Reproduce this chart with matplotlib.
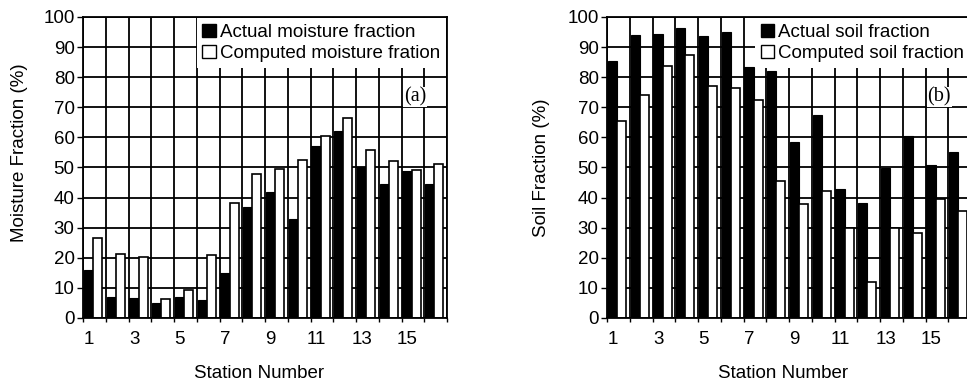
import numpy as np
import matplotlib
matplotlib.use('Agg')
import matplotlib.pyplot as plt
from matplotlib.patches import Patch

plt.rcParams['font.family'] = ['Liberation Sans', 'DejaVu Sans']

stations = np.arange(1, 17)

# panel (a) moisture fraction (%)
actual_moisture = [16, 7, 6.5, 5, 7, 6, 15, 37, 42, 33, 57, 62, 50, 44.5, 49, 44.5]
computed_moisture = [26.5, 21.4, 20.3, 6.3, 9.2, 21, 38.1, 48, 49.4, 52.5, 60.6, 66.4, 55.9, 52.2, 49.1, 51.1]

# panel (b) soil fraction (%)
actual_soil = [85.5, 94, 94.5, 96.2, 93.8, 95, 83.5, 82, 58.4, 67.3, 43, 38.2, 49.8, 60.4, 50.8, 55.3]
computed_soil = [65.3, 74.2, 83.8, 87.4, 77, 76.5, 72.5, 45.5, 37.8, 42.3, 29.9, 11.8, 29.9, 28.4, 39.4, 35.7]

W, H = 967, 382
fig = plt.figure(figsize=(W / 100, H / 100), dpi=100)

ax_w = 364 / W
ax_h = 301 / H
bottom = 64 / H
ax1 = fig.add_axes([83 / W, bottom, ax_w, ax_h])
ax2 = fig.add_axes([607 / W, bottom, ax_w, ax_h])


def draw(ax, actual, computed, labels, ylabel, tag, ylab_x, ylab_y):
    ax.set_axisbelow(True)
    ax.bar(stations - 0.26, actual, width=0.40, color='black', edgecolor='black', linewidth=0.8)
    ax.bar(stations + 0.14, computed, width=0.40, color='white', edgecolor='black', linewidth=1.2)
    ax.set_xlim(0.5, 16.5)
    ax.set_ylim(0, 100)
    ax.set_yticks(np.arange(0, 101, 10))
    ax.set_xticks(stations[::2] - 0.25)
    ax.set_xticklabels([str(s) for s in stations[::2]])
    ax.set_xticks(np.arange(0.5, 16.6, 1), minor=True)
    ax.tick_params(axis='x', which='major', length=0, pad=9, labelsize=13.5)
    ax.tick_params(axis='x', which='minor', length=3, width=1, direction='out')
    ax.tick_params(axis='y', length=4, width=1, pad=2, labelsize=13.5)
    ax.grid(True, which='minor', axis='x', color='black', linewidth=1.3)
    ax.grid(True, which='major', axis='y', color='black', linewidth=1.3)
    for s in ax.spines.values():
        s.set_linewidth(1.3)
    ax.set_xlabel('Station Number', fontsize=13.5)
    ax.xaxis.set_label_coords(0.485, -0.155)
    ax.set_ylabel(ylabel, fontsize=13.5)
    ax.yaxis.set_label_coords(ylab_x, ylab_y)
    handles = [Patch(facecolor='black', edgecolor='black'),
               Patch(facecolor='white', edgecolor='black')]
    ax.legend(handles, labels, loc='upper right', bbox_to_anchor=(1.0, 1.0),
              fontsize=13.5, frameon=True, fancybox=False, framealpha=1,
              facecolor='white', edgecolor='none', borderpad=0.3,
              handlelength=0.7, handleheight=0.7, handletextpad=0.25,
              labelspacing=0.22, borderaxespad=0.05)
    ax.text(15.1, 73.5, tag, fontsize=14.5, family='Liberation Serif', ha='center', va='center',
            bbox=dict(facecolor='white', edgecolor='none', pad=0.5))


draw(ax1, actual_moisture, computed_moisture,
     ['Actual moisture fraction', 'Computed moisture fration'],
     'Moisture Fraction (%)', '(a)', -0.151, 0.55)
draw(ax2, actual_soil, computed_soil,
     ['Actual soil fraction', 'Computed soil fraction'],
     'Soil Fraction (%)', '(b)', -0.157, 0.5)

fig.savefig('out.png', dpi=100)
